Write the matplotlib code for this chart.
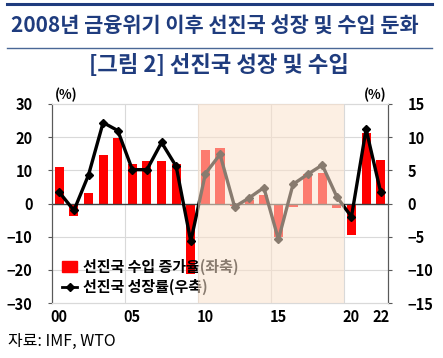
import matplotlib
matplotlib.use("Agg")
import matplotlib.pyplot as plt
import numpy as np
from matplotlib.lines import Line2D
from matplotlib.patches import Patch

plt.rcParams['font.family'] = ['Noto Sans CJK KR', 'DejaVu Sans']

years = list(range(2000, 2023))
imports = [11.0, -3.7, 3.3, 14.6, 19.6, 11.8, 12.7, 12.9, 11.8, -21.4,
           16.2, 16.7, -0.8, 1.2, 2.5, -10.0, -1.0, 9.0, 9.2, -1.3,
           -9.5, 21.4, 13.1]
growth = [1.7, -1.05, 4.3, 12.2, 11.0, 5.1, 5.1, 9.2, 5.6, -5.7,
          4.5, 7.4, -0.5, 0.85, 2.4, -5.4, 2.9, 4.4, 5.8, 1.0,
          -2.0, 11.2, 1.7]
xtick_labels = ['00', '05', '10', '15', '20', '22']
xtick_years = [2000, 2005, 2010, 2015, 2020, 2022]

title = '2008년 금융위기 이후 선진국 성장 및 수입 둔화'
subtitle = '[그림 2] 선진국 성장 및 수입'
bar_label = '선진국 수입 증가율(좌축)'
line_label = '선진국 성장률(우축)'
source = '자료: IMF, WTO'

navy = '#1F3C7E'
fig = plt.figure(figsize=(4.43, 3.58), dpi=100)
W, H = 443, 358

# title rules
fig.add_artist(Line2D([7/W, 432/W], [1-4/H, 1-4/H], color=navy, lw=2.2))
fig.add_artist(Line2D([7/W, 432/W], [1-48/H, 1-48/H], color='#4A6796', lw=1.0))
fig.text(215/W, 1-25/H, title, ha='center', va='center', fontsize=15,
         fontweight='bold', color=navy)
fig.text(219/W, 1-66/H, subtitle, ha='center', va='center', fontsize=16,
         fontweight='bold', color=navy)

ax = fig.add_axes([52/W, 1-303/H, (388-52)/W, (303-104)/H])
ax2 = ax.twinx()

x = np.array(years) - 2000
ax.bar(x, imports, width=0.62, color='#FF0000', zorder=3)
ax.set_xlim(-0.5, 22.5)
ax.set_ylim(-30, 30)
ax.set_yticks(range(-30, 31, 10))
ax.set_xticks([y - 2000 for y in xtick_years])
ax.set_xticklabels(xtick_labels)
ax.axhline(0, color='#404040', lw=1.0, zorder=4)
for gy in [-20, -10, 10, 20]:
    ax.axhline(gy, color='#D9D9D9', lw=0.8, zorder=1)
for gx in [4.5, 9.5, 14.5, 19.5]:
    ax.axvline(gx, color='#D9D9D9', lw=0.8, zorder=1)

ax2.plot(x, growth, color='black', lw=2.4, marker='D', markersize=4.5, zorder=4)
ax2.set_ylim(-15, 15)
ax2.set_yticks(range(-15, 16, 5))

for a in (ax, ax2):
    a.spines['top'].set_color('#D9D9D9')
    a.spines['bottom'].set_color('#D9D9D9')
    a.spines['left'].set_color('#595959')
    a.spines['right'].set_color('#595959')
    a.tick_params(labelsize=10.5, length=3, color='#595959')
    for lab in a.get_yticklabels() + a.get_xticklabels():
        lab.set_fontweight('bold')
ax.tick_params(axis='x', length=0, pad=4)
ax.tick_params(axis='y', pad=11)
ax2.tick_params(axis='y', pad=11)

handles = [Patch(color='#FF0000', label=bar_label),
           Line2D([0], [0], color='black', lw=2.0, marker='D', markersize=4,
                  label=line_label)]
leg = ax2.legend(handles=handles, loc='lower left', bbox_to_anchor=(0.0, -0.015),
                 frameon=False, prop={'size': 10.8, 'weight': 'bold'},
                 handlelength=1.0, handletextpad=0.4, labelspacing=0.3,
                 borderaxespad=0.3)
leg.set_zorder(5)

ax2.axvspan(9.5, 19.5, color='#FAE2CC', alpha=0.55, lw=0, zorder=10)

fig.text(66/W, 1-95/H, '(%)', ha='center', va='center', fontsize=9.5, fontweight='bold')
fig.text(375/W, 1-95/H, '(%)', ha='center', va='center', fontsize=9.5, fontweight='bold')
fig.text(8/W, 1-341/H, source, ha='left', va='center', fontsize=11.5)

fig.savefig('out.png', dpi=100)
